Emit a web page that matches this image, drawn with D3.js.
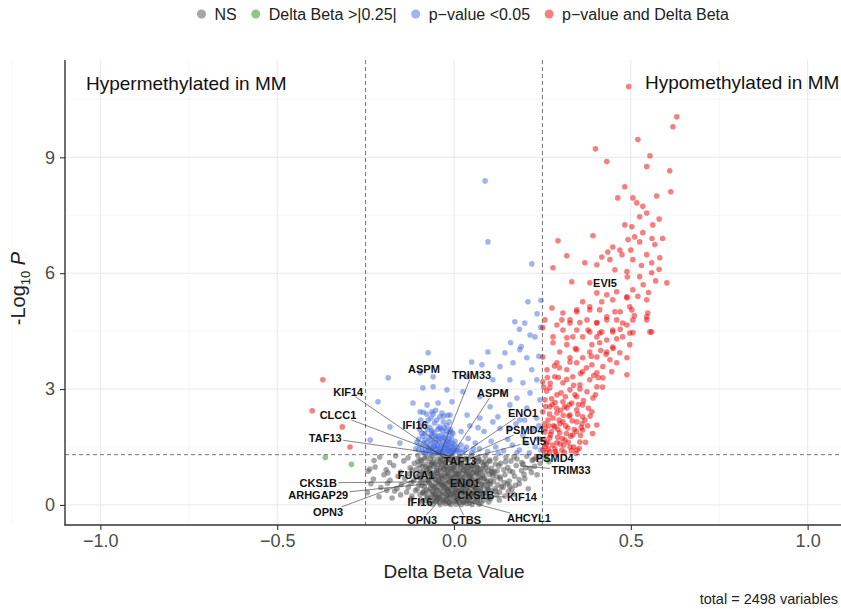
<!DOCTYPE html>
<html><head><meta charset="utf-8">
<script src="https://cdn.jsdelivr.net/npm/d3@7/dist/d3.min.js"></script>
<style>body{margin:0;background:#fff}svg text{font-family:"Liberation Sans",Arial,Helvetica,sans-serif}</style>
</head><body><svg id="chart" width="841" height="609"></svg>
<script>
// ---------------- data ----------------
const xTicks = [-1.0, -0.5, 0.0, 0.5, 1.0];
const xTickLabels = ["\u22121.0", "\u22120.5", "0.0", "0.5", "1.0"];
const yTicks = [0, 3, 6, 9];
const yTickLabels = ["0", "3", "6", "9"];
const legendLabels = ["NS", "Delta Beta >|0.25|", "p\u2212value <0.05", "p\u2212value and Delta Beta"];
const deltaCutoff = 0.25;
const pCutoff = 0.05;
const totalVariables = 2498;

// NS (grey) points: [delta beta, -log10 p]
const nsPoints = [
[-0.21,1.24],[-0.165,1.27],[-0.13,1.22],[-0.102,1.28],[-0.083,1.21],[-0.061,1.26],[-0.047,1.19],[-0.031,1.27],[-0.019,1.23],[-0.006,1.28],[0.004,1.2],[0.017,1.25],[0.031,1.18],[0.049,1.27],[0.068,1.22],[0.088,1.26],[0.118,1.2],[0.147,1.24],[0.178,1.19],[0.206,1.26],[0.232,1.22],
[-0.182,1.1],[-0.142,1.14],[-0.112,1.08],[-0.092,1.15],[-0.071,1.11],[-0.054,1.07],[-0.039,1.14],[-0.024,1.1],[-0.011,1.16],[0.006,1.09],[0.021,1.13],[0.038,1.06],[0.058,1.15],[0.079,1.1],[0.101,1.13],[0.132,1.08],[0.161,1.14],[0.192,1.1],[0.221,1.15],[0.244,1.08],
[-0.223,0.98],[-0.171,1.02],[-0.124,0.96],[-0.098,1.03],[-0.079,0.99],[-0.064,1.04],[-0.049,0.95],[-0.034,1.01],[-0.021,0.97],[-0.007,1.03],[0.009,0.99],[0.023,1.04],[0.036,0.96],[0.051,1.02],[0.066,0.98],[0.084,1.03],[0.106,0.95],[0.127,1.01],[0.152,0.97],[0.176,1.02],[0.203,0.96],[0.228,1.0],
[-0.243,0.87],[-0.192,0.91],[-0.151,0.85],[-0.119,0.9],[-0.094,0.86],[-0.076,0.92],[-0.059,0.84],[-0.044,0.89],[-0.029,0.93],[-0.016,0.86],[0.001,0.91],[0.013,0.84],[0.027,0.9],[0.043,0.87],[0.057,0.92],[0.074,0.85],[0.096,0.9],[0.114,0.86],[0.141,0.91],[0.166,0.85],[0.191,0.89],[0.219,0.84],
[-0.198,0.78],[-0.158,0.74],[-0.128,0.8],[-0.106,0.75],[-0.086,0.79],[-0.069,0.73],[-0.056,0.78],[-0.041,0.74],[-0.026,0.8],[-0.011,0.75],[0.004,0.79],[0.019,0.73],[0.033,0.78],[0.047,0.74],[0.063,0.8],[0.081,0.75],[0.099,0.79],[0.121,0.73],[0.144,0.78],[0.171,0.74],[0.198,0.79],
[-0.228,0.67],[-0.181,0.64],[-0.139,0.68],[-0.114,0.63],[-0.091,0.69],[-0.073,0.64],[-0.057,0.67],[-0.043,0.62],[-0.031,0.68],[-0.018,0.64],[-0.003,0.69],[0.011,0.63],[0.025,0.67],[0.039,0.62],[0.053,0.68],[0.067,0.64],[0.086,0.69],[0.104,0.63],[0.131,0.67],[0.156,0.62],[0.184,0.66],
[-0.188,0.56],[-0.149,0.53],[-0.121,0.57],[-0.099,0.52],[-0.081,0.56],[-0.064,0.51],[-0.051,0.57],[-0.037,0.53],[-0.023,0.56],[-0.009,0.52],[0.005,0.57],[0.021,0.53],[0.034,0.56],[0.049,0.51],[0.063,0.57],[0.079,0.53],[0.099,0.56],[0.124,0.52],[0.151,0.55],[0.174,0.51],
[-0.207,0.45],[-0.161,0.42],[-0.129,0.46],[-0.104,0.41],[-0.084,0.47],[-0.067,0.43],[-0.053,0.46],[-0.039,0.41],[-0.025,0.47],[-0.013,0.43],[0.002,0.46],[0.017,0.41],[0.029,0.47],[0.045,0.42],[0.059,0.46],[0.075,0.41],[0.094,0.45],[0.116,0.42],[0.139,0.46],[0.164,0.41],
[-0.168,0.36],[-0.134,0.33],[-0.109,0.37],[-0.089,0.32],[-0.071,0.36],[-0.057,0.31],[-0.045,0.37],[-0.031,0.33],[-0.017,0.36],[-0.003,0.32],[0.011,0.37],[0.026,0.33],[0.041,0.36],[0.054,0.31],[0.071,0.35],[0.089,0.32],[0.107,0.36],[0.129,0.33],[0.154,0.35],
[-0.151,0.26],[-0.119,0.23],[-0.096,0.27],[-0.076,0.22],[-0.061,0.26],[-0.049,0.21],[-0.035,0.27],[-0.021,0.23],[-0.007,0.26],[0.007,0.22],[0.021,0.27],[0.035,0.23],[0.051,0.26],[0.065,0.21],[0.082,0.25],[0.101,0.22],[0.121,0.26],[0.144,0.23],
[-0.121,0.16],[-0.094,0.13],[-0.074,0.17],[-0.059,0.12],[-0.047,0.16],[-0.033,0.13],[-0.019,0.17],[-0.005,0.12],[0.009,0.16],[0.023,0.13],[0.037,0.17],[0.052,0.12],[0.067,0.16],[0.084,0.13],[0.104,0.16],[0.128,0.13],
[-0.091,0.08],[-0.071,0.05],[-0.055,0.09],[-0.041,0.06],[-0.027,0.08],[-0.013,0.05],[0.001,0.09],[0.015,0.06],[0.029,0.08],[0.044,0.05],[0.059,0.09],[0.077,0.06],[0.098,0.08],
[-0.061,0.02],[-0.039,0.01],[-0.024,0.03],[-0.009,0.01],[0.006,0.02],[0.021,0.01],[0.036,0.03],[0.051,0.01],[0.071,0.02],
[-0.095,1.17],[-0.066,1.2],[-0.037,1.22],[-0.015,1.18],[0.012,1.21],[0.041,1.19],[0.072,1.17],
[-0.085,1.05],[-0.058,1.0],[-0.028,1.07],[0.0,1.05],[0.028,1.0],[0.055,1.07],[0.092,1.05],
[-0.105,0.93],[-0.068,0.95],[-0.037,0.97],[-0.005,0.95],[0.019,0.96],[0.049,0.94],[0.08,0.95],
[-0.075,0.83],[-0.048,0.82],[-0.019,0.83],[0.009,0.81],[0.039,0.82],[0.069,0.83],[0.109,0.82],
[-0.097,0.71],[-0.063,0.72],[-0.035,0.7],[-0.008,0.72],[0.017,0.7],[0.045,0.72],[0.075,0.71],
[-0.071,0.6],[-0.044,0.61],[-0.015,0.59],[0.013,0.61],[0.041,0.6],[0.071,0.61],[0.091,0.6],
[-0.091,0.5],[-0.059,0.49],[-0.032,0.5],[-0.004,0.49],[0.025,0.5],[0.055,0.49],[0.085,0.5],
[-0.078,0.39],[-0.049,0.4],[-0.02,0.39],[0.005,0.4],[0.033,0.39],[0.063,0.4],[0.098,0.39],
[-0.083,0.29],[-0.053,0.28],[-0.026,0.29],[0.001,0.28],[0.029,0.29],[0.058,0.28],[0.091,0.29],
[-0.066,0.19],[-0.04,0.2],[-0.012,0.19],[0.016,0.2],[0.045,0.19],[0.075,0.2],
[-0.05,0.1],[-0.022,0.11],[0.008,0.1],[0.036,0.11],[0.066,0.1],
[-0.235,0.55],[-0.245,0.32],[-0.212,0.21],[-0.187,0.83],[-0.226,1.15],[-0.19,0.38],[-0.175,0.18],[-0.238,0.93],
[-0.102,1.13],[-0.087,0.88],[-0.079,1.24],[-0.072,0.97],[-0.064,0.77],[-0.058,1.12],[-0.052,0.66],[-0.046,1.04],[-0.043,0.54],[-0.038,0.86],[-0.033,1.17],[-0.029,0.44],[-0.024,0.72],[-0.02,1.0],[-0.016,0.33],[-0.012,0.61],[-0.008,0.89],[-0.003,1.14],[0.001,0.22],[0.006,0.52],[0.01,0.78],[0.014,1.05],[0.019,0.35],[0.024,0.64],[0.028,0.91],[0.033,1.2],[0.038,0.46],[0.043,0.75],[0.048,1.01],[0.053,0.27],[0.058,0.58],[0.064,0.86],[0.069,1.13],[0.076,0.4],[0.083,0.69],[0.09,0.97],[0.097,0.18],[0.103,0.53],[0.11,0.76],[0.117,1.06],
[-0.093,0.62],[-0.086,0.34],[-0.081,0.12],[-0.068,0.56],[-0.061,0.35],[-0.054,0.23],[-0.047,0.74],[-0.041,0.28],[-0.036,0.58],[-0.03,0.14],[-0.027,0.92],[-0.022,0.43],[-0.018,0.77],[-0.014,0.06],[-0.01,0.4],[-0.006,0.66],[-0.001,0.83],[0.003,0.36],[0.008,0.64],[0.012,0.15],[0.016,0.88],[0.021,0.44],[0.026,0.07],[0.031,0.71],[0.035,0.52],[0.04,0.96],[0.046,0.3],[0.051,0.65],[0.056,0.84],[0.061,0.44],[0.066,0.96],[0.071,0.26],[0.078,0.55],[0.086,0.84],[0.094,0.42],[0.101,1.16],[0.112,0.61],[0.122,0.88],[0.134,0.47],[0.146,1.12],
[-0.098,0.78],[-0.09,1.0],[-0.077,0.64],[-0.07,0.85],[-0.062,1.08],[-0.056,0.44],[-0.05,0.88],[-0.044,0.18],[-0.04,1.1],[-0.034,0.76],[-0.028,0.55],[-0.023,1.12],[-0.018,0.25],[-0.013,0.94],[-0.009,0.28],[-0.004,0.57],[0.0,0.97],[0.005,0.74],[0.009,0.32],[0.015,0.54],[0.02,1.08],[0.025,0.82],[0.03,0.34],[0.036,0.86],[0.042,0.14],[0.047,0.58],[0.052,0.82],[0.057,0.38],[0.062,1.04],[0.068,0.72],[0.074,0.92],[0.08,0.3],[0.087,1.12],[0.095,0.62],[0.106,0.86],[0.118,0.36],[0.13,0.72],[0.142,0.58],[0.158,0.88],[0.168,0.28],
[0.185,0.55],[0.2,0.68],[0.215,0.95],[0.225,1.18],[0.21,0.42],[0.195,1.05],[0.235,0.78],[0.17,1.25],[0.158,0.48],[0.24,1.25]
];

// |Delta Beta| > 0.25 only (green)
const fcPoints = [[-0.364,1.23],[-0.29,1.05],[0.258,1.22],[0.268,1.12],[0.262,1.27]];

// p-value < 0.05 only (blue)
const pPoints = [
[-0.108,1.45],[-0.1,1.7],[-0.097,1.95],[-0.094,2.2],[-0.09,1.38],[-0.086,1.6],[-0.083,1.85],[-0.08,2.1],[-0.077,2.35],[-0.074,1.5],[-0.071,1.75],[-0.068,2.0],[-0.065,2.25],[-0.062,1.4],[-0.06,1.62],[-0.057,1.88],[-0.055,2.12],[-0.052,2.45],[-0.05,1.35],[-0.047,1.55],[-0.045,1.78],[-0.042,2.02],[-0.04,2.28],[-0.037,1.45],[-0.035,1.68],[-0.032,1.92],[-0.03,2.15],[-0.027,1.38],[-0.025,1.58],[-0.022,1.82],[-0.02,2.05],[-0.018,2.32],[-0.015,1.48],[-0.013,1.72],[-0.01,1.95],[-0.008,1.36],[-0.005,1.6],[-0.003,1.85],[0.0,1.42],[0.003,1.65],
[-0.072,1.42],[-0.058,1.5],[-0.044,1.42],[-0.03,1.52],[-0.017,1.4],[-0.004,1.5],[-0.066,1.68],[-0.05,1.72],[-0.036,1.8],[-0.021,1.66],[-0.008,1.75],[-0.088,1.78],[-0.063,1.92],[-0.046,1.95],[-0.028,2.0],[-0.013,1.88],
[-0.098,1.55],[-0.092,1.85],[-0.081,1.48],[-0.076,1.62],[-0.069,1.55],[-0.061,1.78],[-0.054,1.62],[-0.048,1.45],[-0.041,1.62],[-0.034,1.55],[-0.026,1.72],[-0.019,1.55],[-0.011,1.62],[-0.006,1.42],[-0.039,1.35],[-0.023,1.33],[-0.055,1.33],[-0.07,1.33],[-0.085,1.35],[-0.012,1.35],
[-0.105,1.62],[-0.1,1.42],[-0.095,2.05],[-0.091,1.5],[-0.087,2.4],[-0.082,1.68],[-0.079,1.36],[-0.075,1.95],[-0.073,2.2],[-0.067,1.45],[-0.064,1.85],[-0.059,2.35],[-0.056,1.52],[-0.053,1.78],[-0.049,2.2],[-0.046,1.35],[-0.043,1.7],[-0.038,1.98],[-0.033,1.4],[-0.031,1.75],[-0.029,2.3],[-0.024,1.48],[-0.021,1.92],[-0.016,1.62],[-0.014,2.15],[-0.009,1.5],[-0.007,1.88],[-0.002,1.36],[0.002,1.55],[0.006,1.4],[-0.06,1.45],[-0.045,1.5],[-0.035,1.38],[-0.02,1.45],[-0.01,1.4],[0.008,1.5],[0.015,1.42],[0.025,1.35],[0.035,1.5],[0.055,1.45],
[0.012,1.38],[0.02,1.55],[0.03,1.42],[0.04,1.72],[0.05,1.35],[0.06,1.6],[0.072,1.45],[0.085,1.9],[0.095,1.38],[0.105,1.65],[0.118,1.5],[0.13,1.98],[0.14,1.4],[0.152,1.7],[0.165,1.55],[0.175,2.1],[0.185,1.42],[0.195,1.8],[0.205,1.6],[0.213,1.35],[0.222,1.95],[0.23,1.5],[0.238,1.72],[0.245,1.42],[0.02,1.9],[0.045,2.05],[0.068,2.0],[0.11,2.15],[0.155,2.0],[0.2,2.2],[0.24,2.05],[0.178,1.35],[0.125,1.33],
[-0.073,3.94],[0.096,3.96],[0.144,3.94],[0.186,4.02],[0.206,3.81],[0.079,3.63],[0.13,3.58],[0.167,3.68],[0.22,3.5],[-0.186,3.29],[-0.096,3.42],[-0.059,3.32],[0.04,3.32],[0.11,3.24],[0.158,3.24],[0.195,3.16],[0.234,3.24],[-0.088,3.03],[-0.059,3.06],[-0.02,2.98],[0.025,2.93],[0.073,2.8],[0.138,2.9],[0.178,2.77],[0.215,2.9],[0.243,2.72],[-0.116,2.64],[-0.076,2.59],[-0.045,2.64],[-0.006,2.67],[0.102,2.54],[0.158,2.59],[0.206,2.51],[-0.096,2.41],[-0.062,2.41],[-0.034,2.38],[-0.011,2.33],[0.037,2.33],[0.073,2.25],[0.124,2.28],[0.186,2.2],[0.234,2.25],
[0.088,8.39],[0.096,6.81],[0.22,6.24],[0.209,5.26],[0.246,5.3],[0.172,4.74],[0.2,4.71],[0.229,4.35],[0.235,4.95],[0.24,3.85],[0.16,4.2],[0.05,3.7],[-0.215,2.67],[-0.181,2.02],[-0.237,1.68],[-0.153,1.6],[0.185,4.55],[0.215,4.4],[0.245,4.6],[0.19,4.1]
];

// p-value and Delta Beta (red)
const bothPoints = [
[0.494,10.83],[0.63,10.05],[0.619,9.79],[0.52,9.46],[0.40,9.22],[0.554,9.04],[0.432,8.89],[0.545,8.76],[0.61,8.65],[0.483,8.24],[0.613,8.11],[0.463,7.95],[0.573,8.0],[0.506,7.95],[0.534,7.73],[0.517,7.82],[0.545,7.56],[0.525,7.46],[0.483,7.25],[0.503,7.2],[0.562,7.25],[0.393,6.97],[0.294,6.84],[0.492,6.87],[0.511,6.94],[0.534,7.05],[0.568,6.74],[0.449,6.68],[0.469,6.6],[0.525,6.81],[0.319,6.45],[0.435,6.55],[0.418,6.42],[0.475,6.48],[0.441,6.35],[0.506,6.35],[0.545,6.48],[0.559,6.27],[0.582,6.4],[0.28,6.14],[0.37,6.27],[0.404,6.22],[0.455,6.09],[0.489,6.04],[0.559,6.01],[0.525,5.91],[0.333,5.78],[0.384,5.75],[0.602,5.75],[0.506,5.57],[0.404,5.49],[0.432,5.44],[0.46,5.52],[0.489,5.39],[0.545,5.31],[0.364,5.26],[0.277,5.1],[0.347,5.05],[0.384,5.13],[0.412,5.05],[0.455,5.0],[0.503,5.05],[0.545,4.87],[0.305,4.79],[0.328,4.71],[0.376,4.79],[0.404,4.71],[0.432,4.79],[0.477,4.71],[0.506,4.79],[0.257,4.79],[0.347,4.53],[0.384,4.48],[0.412,4.45],[0.449,4.48],[0.497,4.45],[0.554,4.48],[0.28,4.35],[0.319,4.33],
[0.418,5.26],[0.449,5.31],[0.489,5.36],[0.497,5.13],[0.308,4.97],[0.347,5.0],[0.384,5.05],[0.548,4.97],[0.432,4.87],[0.46,4.79],[0.328,4.79],[0.291,4.66],[0.356,4.72],[0.404,4.72],[0.489,4.66],[0.545,4.79],[0.251,4.59],[0.308,4.53],[0.379,4.53],[0.418,4.48],[0.449,4.53],[0.559,4.48],[0.506,4.46],[0.336,4.35],[0.364,4.35],[0.404,4.35],[0.432,4.27],[0.477,4.35],[0.28,4.2],[0.319,4.15],[0.39,4.15],[0.412,4.2],[0.449,4.09],[0.497,4.15],[0.299,3.96],[0.347,4.02],[0.384,3.96],[0.432,3.96],[0.469,3.94],[0.251,3.83],[0.328,3.81],[0.364,3.81],[0.404,3.83],[0.441,3.76],[0.489,3.81],[0.291,3.68],[0.347,3.68],[0.39,3.63],[0.421,3.58],[0.46,3.68],[0.263,3.5],[0.319,3.5],[0.364,3.45],[0.404,3.42],[0.489,3.37],[0.446,3.45],[0.285,3.32],[0.336,3.32],[0.384,3.24],[0.421,3.29],[0.251,3.19],[0.308,3.16],[0.356,3.11],[0.404,3.06],[0.271,3.03],[0.328,2.98],[0.376,2.93],[0.291,2.85],[0.347,2.8],[0.393,2.77],[0.257,2.72],[0.308,2.67],[0.333,2.64],[0.364,2.59],[0.271,2.54],[0.319,2.51],[0.347,2.46],[0.39,2.41],[0.251,2.41],[0.291,2.38],[0.328,2.33],[0.364,2.28],[0.266,2.2],[0.308,2.15],[0.347,2.15],[0.404,2.07],[0.285,2.02],[0.322,1.99],[0.364,1.94],[0.257,1.89],[0.299,1.87],[0.336,1.81],[0.271,1.74],[0.314,1.68],[0.356,1.63],[0.291,1.61],[0.257,1.5],[0.328,1.5],[0.305,1.42],[0.271,1.37],[0.347,1.42],
[0.26,1.35],[0.265,1.62],[0.275,1.9],[0.28,2.25],[0.285,1.45],[0.293,1.75],[0.3,2.1],[0.31,1.55],[0.318,1.85],[0.325,2.3],[0.332,1.4],[0.34,1.95],[0.352,2.6],[0.358,1.8],[0.37,2.2],[0.278,2.6],[0.262,2.95],[0.295,3.3],[0.315,2.8],[0.338,3.1],[0.255,1.7],[0.268,2.05],[0.29,1.32],[0.302,2.45],[0.345,1.33],[0.36,2.0],[0.38,2.5],[0.4,2.85],[0.395,3.35],[0.42,3.05],[0.43,3.9],[0.46,4.3],[0.47,4.55],[0.51,4.9],[0.52,5.4],[0.535,5.7],[0.57,5.8],[0.58,6.1],[0.59,6.9],
[0.252,1.42],[0.256,2.1],[0.259,2.55],[0.261,1.58],[0.264,3.3],[0.267,1.45],[0.27,2.35],[0.273,1.82],[0.276,2.75],[0.279,1.55],[0.282,2.05],[0.284,3.6],[0.287,1.38],[0.29,2.5],[0.294,1.95],[0.297,2.2],[0.3,1.58],[0.303,2.9],[0.306,1.72],[0.309,2.32],[0.312,1.36],[0.316,2.05],[0.319,3.25],[0.323,1.62],[0.327,2.6],[0.33,1.78],[0.334,2.18],[0.338,1.5],[0.342,2.85],[0.346,1.9],[0.35,2.35],[0.354,1.46],[0.358,3.4],[0.362,2.1],[0.366,2.7],[0.372,1.62],[0.378,2.05],[0.385,2.3],[0.392,1.85],[0.254,3.05],[0.258,1.98],[0.272,3.15],[0.286,2.65],[0.298,3.55],[0.313,2.55],[0.328,3.7],[0.343,4.05],[0.356,3.0],[0.375,3.55],[0.388,3.85],[0.408,3.3],[0.415,4.0],[0.45,4.05],[0.47,5.0],[0.49,5.9],[0.5,6.6],[0.53,6.2],[0.55,5.5],[0.56,6.9],[0.58,7.4],
[-0.371,3.24],[-0.401,2.44],[-0.316,2.02],[-0.294,1.5]
];

// gene labels: name, labelled point (delta beta, -log10 p)
const labelNames  = ["KIF14","CLCC1","TAF13","IFI16","ASPM","TRIM33","ASPM","ENO1","PSMD4","EVI5","TAF13","PSMD4","TRIM33","FUCA1","ENO1","CKS1B","ARHGAP29","OPN3","IFI16","CKS1B","KIF14","AHCYL1","OPN3","CTBS","EVI5"];
const labelPointX = [-0.006,0.003,-0.006,-0.045,-0.085,-0.04,-0.011,0.017,0.04,0.054,0.017,0.237,0.186,-0.107,0.031,-0.082,-0.082,-0.096,-0.096,0.062,0.113,0.04,-0.04,0.003,0.427];
const labelPointY = [1.09,1.19,1.27,1.6,3.52,1.3,1.22,1.27,1.28,1.24,1.14,1.27,1.01,0.78,0.57,0.6,0.54,0.7,0.08,0.26,0.21,0.08,0.13,0.18,5.75];
// repelled label positions (data units)
const labelTextX = [-0.299,-0.328,-0.364,-0.11,-0.085,0.05,0.11,0.195,0.2,0.226,0.017,0.285,0.331,-0.107,0.031,-0.384,-0.384,-0.356,-0.096,0.062,0.192,0.212,-0.09,0.034,0.427];
const labelTextY = [2.93,2.33,1.74,2.07,3.52,3.37,2.9,2.38,1.94,1.66,1.14,1.22,0.9,0.78,0.57,0.57,0.26,-0.18,0.08,0.26,0.21,-0.34,-0.39,-0.39,5.75];

// ---------------- drawing ----------------
const W = 841, H = 609;
const M = {left: 65, right: 843, top: 60, bottom: 525};
const svg = d3.select("#chart");
const x = d3.scaleLinear().domain([-1.1, 1.1]).range([M.left, M.right]);
const y = d3.scaleLinear().domain([-0.52, 11.52]).range([M.bottom, M.top]);
const colors = ["#4d4d4d", "#228b22", "#4169e1", "#ee0000"];
const FONT = '"Liberation Sans",Arial,sans-serif';

svg.append("defs").append("clipPath").attr("id","panel")
  .append("rect").attr("x",M.left).attr("y",M.top).attr("width",M.right-M.left).attr("height",M.bottom-M.top);

// grid
const grid = svg.append("g");
const xMinor = d3.range(-1.25, 1.26, 0.5);
const yMinor = [1.5, 4.5, 7.5, 10.5];
grid.selectAll(".xm").data(xMinor).join("line")
  .attr("x1",d=>x(d)).attr("x2",d=>x(d)).attr("y1",M.top).attr("y2",M.bottom)
  .attr("stroke","#f3f3f3").attr("stroke-width",0.7);
grid.selectAll(".ym").data(yMinor).join("line")
  .attr("x1",M.left).attr("x2",M.right).attr("y1",d=>y(d)).attr("y2",d=>y(d))
  .attr("stroke","#f3f3f3").attr("stroke-width",0.7);
grid.selectAll(".xg").data(xTicks).join("line")
  .attr("x1",d=>x(d)).attr("x2",d=>x(d)).attr("y1",M.top).attr("y2",M.bottom)
  .attr("stroke","#e8e8e8").attr("stroke-width",1);
grid.selectAll(".yg").data(yTicks).join("line")
  .attr("x1",M.left).attr("x2",M.right).attr("y1",d=>y(d)).attr("y2",d=>y(d))
  .attr("stroke","#e8e8e8").attr("stroke-width",1);

// points
const pts = svg.append("g").attr("clip-path","url(#panel)");
[nsPoints, fcPoints, pPoints, bothPoints].forEach((arr, i) => {
  pts.append("g").selectAll("circle").data(arr).join("circle")
    .attr("cx", d => x(d[0])).attr("cy", d => y(d[1])).attr("r", 2.8)
    .attr("fill", colors[i]).attr("fill-opacity", 0.5);
});

// cutoff lines
const cut = svg.append("g").attr("stroke","#555").attr("stroke-width",0.8).attr("stroke-dasharray","4,3").attr("fill","none");
[-deltaCutoff, deltaCutoff].forEach(v => cut.append("line").attr("x1",x(v)).attr("x2",x(v)).attr("y1",M.top).attr("y2",M.bottom));
cut.append("line").attr("x1",M.left).attr("x2",M.right).attr("y1",y(-Math.log10(pCutoff))).attr("y2",y(-Math.log10(pCutoff)));

// labels and connectors
const lab = svg.append("g").attr("clip-path","url(#panel)");
const segG = lab.append("g");
const txtG = lab.append("g");
labelNames.forEach((name, i) => {
  const tx = x(labelTextX[i]), ty = y(labelTextY[i]);
  const px = x(labelPointX[i]), py = y(labelPointY[i]);
  const t = txtG.append("text").attr("x",tx).attr("y",ty).attr("dy","0.35em")
    .attr("text-anchor","middle").attr("font-size",11).attr("font-weight","bold").attr("fill","#111").text(name);
  const bb = t.node().getBBox();
  const hw = bb.width/2 + 1.5, hh = 5;
  const dx = px - tx, dy = py - ty;
  if (Math.abs(dx) < 1e-6 && Math.abs(dy) < 1e-6) return;
  const s = Math.min(Math.abs(dx) > 1e-6 ? hw/Math.abs(dx) : Infinity, Math.abs(dy) > 1e-6 ? hh/Math.abs(dy) : Infinity);
  if (s >= 1) return;
  const sx = tx + dx*s, sy = ty + dy*s;
  if (Math.hypot(px-sx, py-sy) < 6) return;
  segG.append("line").attr("x1",sx).attr("y1",sy).attr("x2",px).attr("y2",py)
    .attr("stroke","#333").attr("stroke-width",0.6);
});

// axes
const axX = svg.append("g").attr("transform",`translate(0,${M.bottom})`)
  .call(d3.axisBottom(x).tickValues(xTicks).tickFormat((d,i)=>xTickLabels[i]).tickSize(5).tickPadding(4));
const axY = svg.append("g").attr("transform",`translate(${M.left},0)`)
  .call(d3.axisLeft(y).tickValues(yTicks).tickFormat((d,i)=>yTickLabels[i]).tickSize(5).tickPadding(5));
[axX, axY].forEach(a => {
  a.select(".domain").remove();
  a.selectAll(".tick line").attr("stroke","#333").attr("stroke-width",1.1);
  a.selectAll(".tick text").attr("fill","#4d4d4d").attr("font-size",18).attr("font-family",FONT);
});
svg.append("line").attr("x1",M.left).attr("x2",M.left).attr("y1",M.top).attr("y2",M.bottom+0.5).attr("stroke","#333").attr("stroke-width",1.4);
svg.append("line").attr("x1",M.left-0.5).attr("x2",W).attr("y1",M.bottom).attr("y2",M.bottom).attr("stroke","#333").attr("stroke-width",1.4);

// annotations
svg.append("text").attr("x",86).attr("y",90).attr("font-size",19).attr("fill","#111").text("Hypermethylated in MM");
svg.append("text").attr("x",645).attr("y",89).attr("font-size",19).attr("fill","#111").text("Hypomethylated in MM");

// axis titles
svg.append("text").attr("x",x(0)).attr("y",578).attr("text-anchor","middle").attr("font-size",19).attr("fill","#222").text("Delta Beta Value");
const yt = svg.append("text").attr("transform",`translate(25,${(M.top+M.bottom)/2 - 4}) rotate(-90)`)
  .attr("text-anchor","middle").attr("font-size",20).attr("fill","#222");
yt.append("tspan").text("-Log");
yt.append("tspan").attr("font-size",13).attr("dy",5).text("10");
yt.append("tspan").attr("dy",-5).text(" ");
yt.append("tspan").attr("font-style","italic").text("P");

// caption
svg.append("text").attr("x",838).attr("y",604).attr("text-anchor","end").attr("font-size",14.5).attr("fill","#222")
  .text(`total = ${totalVariables} variables`);

// legend (laid out from measured text widths, centred like the reference)
const leg = svg.append("g");
let cx = 0;
legendLabels.forEach((l, i) => {
  leg.append("circle").attr("cx",cx).attr("cy",14).attr("r",4.5).attr("fill",colors[i]).attr("fill-opacity",0.5);
  const t = leg.append("text").attr("x",cx+13).attr("y",14).attr("dy","0.35em").attr("font-size",16).attr("fill","#222").text(l);
  cx += 13 + t.node().getComputedTextLength() + 19;
});
const lb = leg.node().getBBox();
leg.attr("transform",`translate(${463 - (lb.x + lb.width/2)},0)`);
</script></body></html>
